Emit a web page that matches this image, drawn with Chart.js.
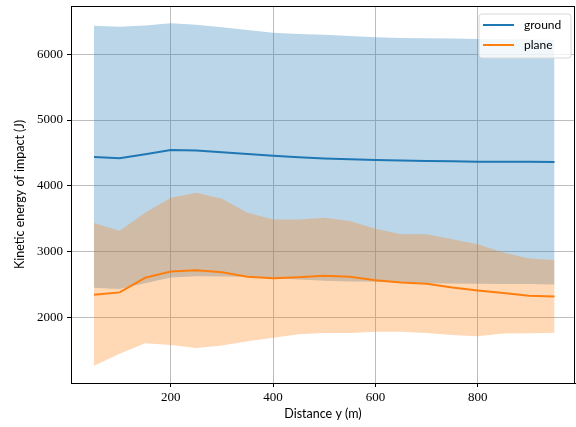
<!DOCTYPE html>
<html>
<head>
<meta charset="utf-8">
<script src="https://cdn.jsdelivr.net/npm/chart.js@4.4.0/dist/chart.umd.min.js"></script>
<style>
  html, body { margin: 0; padding: 0; background: #fff; }
  #wrap { width: 576px; height: 427px; }
</style>
</head>
<body>
<div id="wrap"><canvas id="chart" width="576" height="427"></canvas></div>
<script>
// distances (m)
const distances = [50, 100, 150, 200, 250, 300, 350, 400, 450, 500, 550, 600, 650, 700, 750, 800, 850, 900, 950];

// ground: mean and band
const groundMean  = [4439, 4418, 4480, 4545, 4539, 4512, 4485, 4459, 4435, 4415, 4403, 4394, 4385, 4378, 4373, 4368, 4366, 4365, 4364];
const groundUpper = [6433, 6418, 6440, 6474, 6449, 6410, 6370, 6327, 6310, 6298, 6280, 6258, 6250, 6245, 6240, 6232, 6230, 6225, 6220];
const groundLower = [2448, 2429, 2520, 2606, 2626, 2620, 2615, 2595, 2576, 2555, 2545, 2540, 2530, 2520, 2515, 2510, 2505, 2505, 2500];

// plane: mean and band
const planeMean  = [2343, 2379, 2601, 2697, 2717, 2687, 2616, 2595, 2610, 2631, 2616, 2565, 2530, 2510, 2455, 2409, 2369, 2328, 2318];
const planeUpper = [3433, 3318, 3591, 3818, 3894, 3803, 3591, 3489, 3489, 3515, 3464, 3348, 3262, 3262, 3186, 3110, 2985, 2894, 2873];
const planeLower = [1262, 1444, 1606, 1580, 1535, 1570, 1636, 1691, 1742, 1762, 1762, 1782, 1782, 1762, 1732, 1712, 1753, 1758, 1767];

const xTicks = [200, 400, 600, 800];
const yTicks = [2000, 3000, 4000, 5000, 6000];

const BLUE = "#1f77b4";
const ORANGE = "#ff7f0e";

function pts(ys) {
    return distances.map((x, i) => ({ x: x, y: ys[i] }));
}

function band(ys, fillColor, fill) {
    return {
        data: pts(ys),
        borderColor: "transparent",
        borderWidth: 0,
        pointRadius: 0,
        backgroundColor: fillColor,
        fill: fill,
        tension: 0
    };
}

// cadre complet + légende dans le graphique
const framePlugin = {
    id: "frame",
    afterDraw(chart) {
        const ctx = chart.ctx;
        const a = chart.chartArea;
        ctx.save();
        ctx.strokeStyle = "#000";
        ctx.lineWidth = 1;
        ctx.strokeRect(a.left + 0.5, a.top + 0.5, a.right - a.left - 1, a.bottom - a.top);

        // légende
        const bx = 479, by = 14, bw = 92, bh = 44, r = 3;
        ctx.beginPath();
        ctx.moveTo(bx + r, by);
        ctx.arcTo(bx + bw, by, bx + bw, by + bh, r);
        ctx.arcTo(bx + bw, by + bh, bx, by + bh, r);
        ctx.arcTo(bx, by + bh, bx, by, r);
        ctx.arcTo(bx, by, bx + bw, by, r);
        ctx.closePath();
        ctx.fillStyle = "rgba(255,255,255,0.8)";
        ctx.fill();
        ctx.strokeStyle = "#d8d8d8";
        ctx.lineWidth = 1;
        ctx.stroke();

        const items = [["ground", BLUE, 25], ["plane", ORANGE, 45]];
        ctx.font = "12px Lato, 'DejaVu Sans', sans-serif";
        ctx.textBaseline = "middle";
        items.forEach(([label, color, y]) => {
            ctx.beginPath();
            ctx.strokeStyle = color;
            ctx.lineWidth = 2;
            ctx.moveTo(483, y);
            ctx.lineTo(514, y);
            ctx.stroke();
            ctx.fillStyle = "#000";
            ctx.fillText(label, 524, y);
        });
        ctx.restore();
    }
};

const ctx = document.getElementById("chart").getContext("2d");
new Chart(ctx, {
    type: "line",
    data: {
        datasets: [
            { label: "ground", data: pts(groundMean), borderColor: BLUE, borderWidth: 2, pointRadius: 0, fill: false, tension: 0 },
            { label: "plane", data: pts(planeMean), borderColor: ORANGE, borderWidth: 2, pointRadius: 0, fill: false, tension: 0 },
            band(planeUpper, "rgba(255,127,14,0.3)", "+1"),
            band(planeLower, "transparent", false),
            band(groundUpper, "rgba(31,119,180,0.3)", "+1"),
            band(groundLower, "transparent", false)
        ]
    },
    options: {
        responsive: false,
        animation: false,
        layout: { padding: { top: 6, right: 1, left: 0, bottom: 0 } },
        plugins: {
            legend: { display: false },
            tooltip: { enabled: false },
            filler: { drawTime: "beforeDatasetsDraw" }
        },
        scales: {
            x: {
                type: "linear",
                min: 5,
                max: 990,
                afterBuildTicks: (s) => { s.ticks = xTicks.map(v => ({ value: v })); },
                afterFit: (s) => { s.height = 44; s.paddingLeft = 0; s.paddingRight = 0; },
                grid: { color: "#bdbdbd", lineWidth: 1, tickColor: "#000", tickLength: 4 },
                border: { display: true, color: "#000", width: 1 },
                ticks: {
                    color: "#000",
                    padding: 3,
                    maxRotation: 0,
                    callback: (v) => String(v),
                    font: { family: "'Liberation Serif', 'DejaVu Serif', serif", size: 13 }
                },
                title: {
                    display: true,
                    text: "Distance y (m)",
                    color: "#000",
                    padding: { top: 0, bottom: 6 },
                    font: { family: "Lato, 'DejaVu Sans', sans-serif", size: 12.5 }
                }
            },
            y: {
                type: "linear",
                min: 1001,
                max: 6735,
                afterBuildTicks: (s) => { s.ticks = yTicks.map(v => ({ value: v })); },
                afterFit: (s) => { s.width = 71; s.paddingTop = 0; s.paddingBottom = 0; },
                grid: { color: "#bdbdbd", lineWidth: 1, tickColor: "#000", tickLength: 4 },
                border: { display: true, color: "#000", width: 1 },
                ticks: {
                    color: "#000",
                    padding: 4,
                    callback: (v) => String(v),
                    font: { family: "'Liberation Serif', 'DejaVu Serif', serif", size: 13 }
                },
                title: {
                    display: true,
                    text: "Kinetic energy of impact (J)",
                    color: "#000",
                    padding: { top: 12, bottom: 4 },
                    font: { family: "Lato, 'DejaVu Sans', sans-serif", size: 12.5 }
                }
            }
        }
    },
    plugins: [framePlugin]
});
</script>
</body>
</html>
